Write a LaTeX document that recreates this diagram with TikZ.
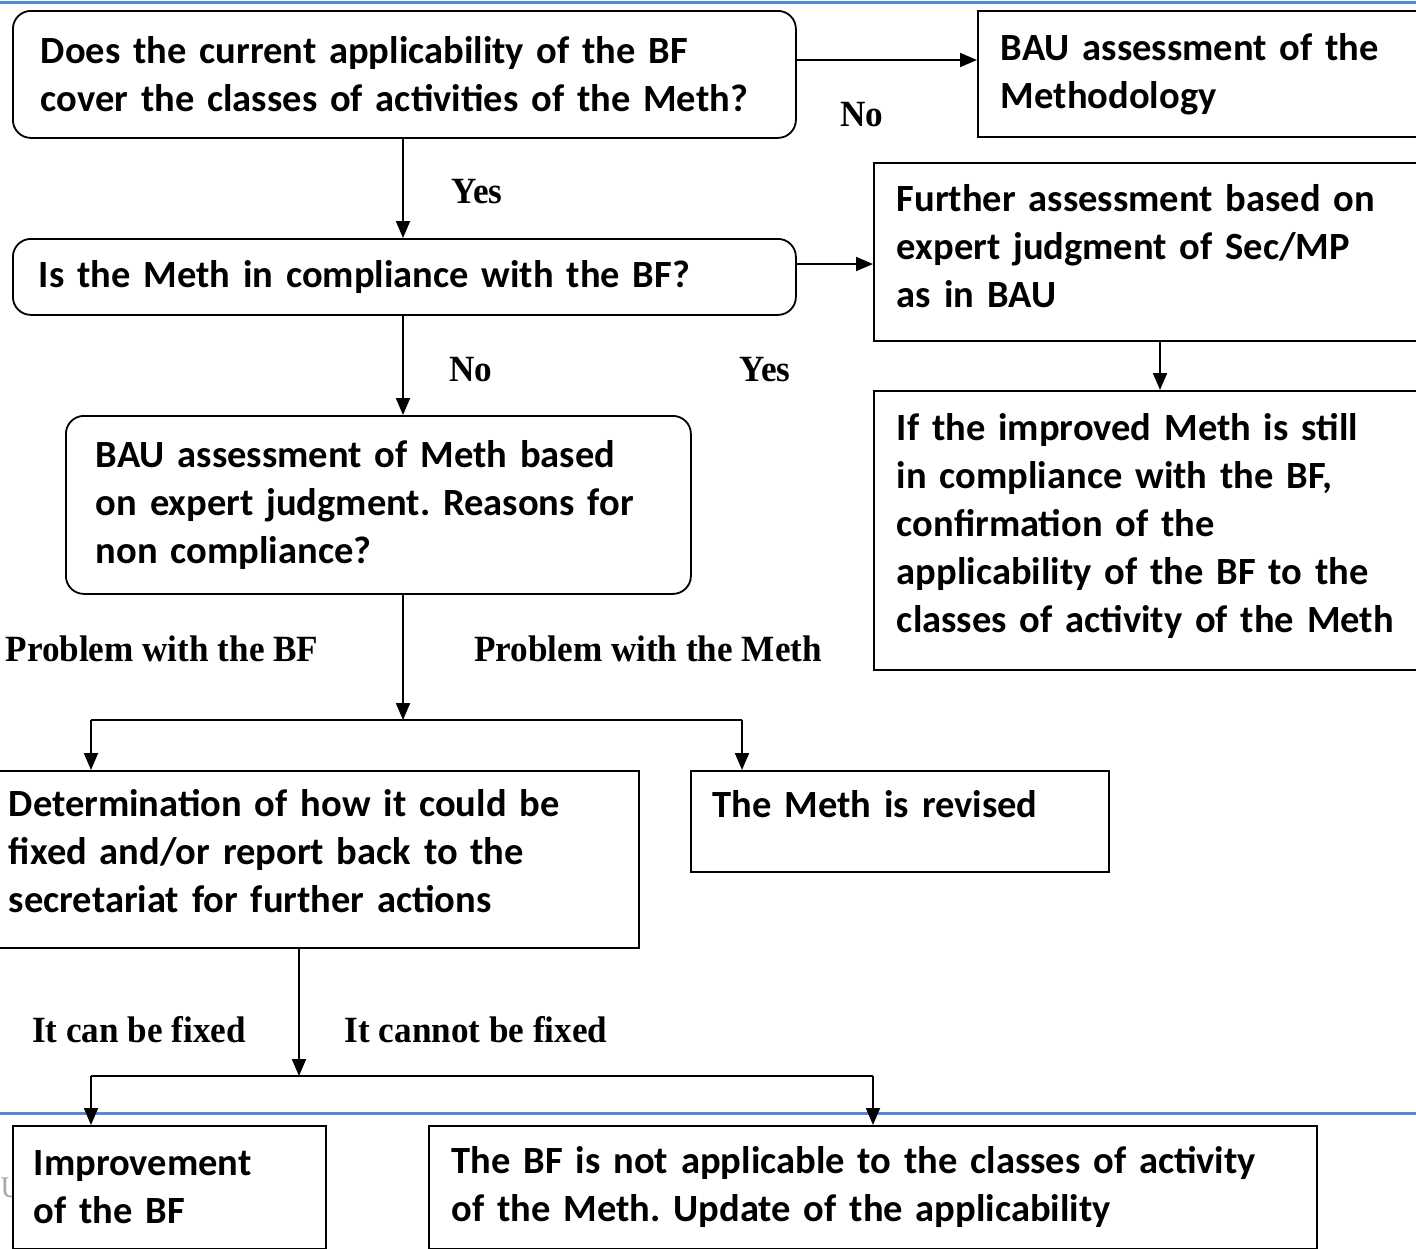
\documentclass[tikz,border=0pt]{standalone}
\usepackage{fontspec}
\setmainfont{Carlito}
\newfontfamily\boxfamily{Carlito}
\newfontfamily\lblfamily{Liberation Serif}[FakeStretch=0.95]
\usetikzlibrary{arrows.meta,calc}
\definecolor{rulebl}{RGB}{79,141,219}
\frenchspacing
\tikzset{
  box/.style={draw, line width=1.8pt, fill=white, anchor=north west, align=left,
    inner ysep=0pt, font=\boxfamily\bfseries\fontsize{38.5}{48}\selectfont},
  rbox/.style={box, rounded corners=18pt},
  lbl/.style={font=\lblfamily\bfseries\fontsize{37}{40}\selectfont, inner sep=0pt},
  conn/.style={line width=2pt},
  arr/.style={line width=2pt, -{Triangle[length=17pt,width=14pt]}},
  bluerule/.style={draw=rulebl, line width=3pt}
}
\begin{document}
\begin{tikzpicture}[x=1pt,y=-1pt]
\useasboundingbox (0,0) rectangle (1416,1248);
\clip (0,0) rectangle (1416,1248);

\draw[bluerule] (0,2) -- (1416,2);
\draw[bluerule] (0,1113) -- (1416,1113);

\node[font=\lblfamily\fontsize{30}{34}\selectfont, text=gray!70, inner sep=0pt, anchor=west] (ufrag) at (0.5,1188) {U};

% boxes
\node[rbox, inner xsep=28pt, text width=727pt, minimum height=127pt] (q1) at (12,10)
  {Does the current applicability of the BF\\cover the classes of activities of the Meth?};
\node[box, inner xsep=23pt, text width=420pt, minimum height=126pt] (bau) at (977,10)
  {BAU assessment of the\\Methodology};
\node[rbox, inner xsep=26pt, text width=731pt, minimum height=76pt] (q2) at (12,238)
  {Is the Meth in compliance with the BF?};
\node[box, inner xsep=23pt, text width=521pt, minimum height=178pt, text depth=108pt] (fur) at (873,162)
  {Further assessment based on\\expert judgment of Sec/MP\\as in BAU};
\node[box, inner xsep=23pt, text width=521pt, minimum height=279pt, text depth=206pt] (conf) at (873,390)
  {If the improved Meth is still\\in compliance with the BF,\\confirmation of the\\applicability of the BF to the\\classes of activity of the Meth};
\node[rbox, inner xsep=30pt, text width=565pt, minimum height=178pt] (reas) at (65,415)
  {BAU assessment of Meth based\\on expert judgment. Reasons for\\non compliance?};
\node[box, inner xsep=28pt, text width=602pt, minimum height=177pt, text depth=112pt] (det) at (-20,770)
  {Determination of how it could be\\fixed and/or report back to the\\secretariat for further actions};
\node[box, inner xsep=22pt, text width=374pt, minimum height=101pt, text depth=34pt] (rev) at (690,770)
  {The Meth is revised};
\node[box, inner xsep=21pt, text width=271pt, minimum height=123pt] (imp) at (12,1125)
  {Improvement\\of the BF};
\node[box, inner xsep=23pt, text width=842pt, minimum height=123pt] (nap) at (428,1125)
  {The BF is not applicable to the classes of activity\\of the Meth. Update of the applicability};

% labels
\node[lbl] (lno1) at (862,115) {No};
\node[lbl] (lyes1) at (477,192) {Yes};
\node[lbl] (lno2) at (471,370) {No};
\node[lbl] (lyes2) at (765,370) {Yes};
\node[lbl] (lpbf) at (162,649) {Problem with the BF};
\node[lbl] (lpm) at (648,649) {Problem with the Meth};
\node[lbl] (lfix) at (139,1030) {It can be fixed};
\node[lbl] (lnfix) at (476,1030) {It cannot be fixed};

% junction coordinates
\coordinate (j1) at (403,720);
\coordinate (j1l) at (91,720);
\coordinate (j1r) at (742,720);
\coordinate (j2) at (299,1076);
\coordinate (j2l) at (91,1076);
\coordinate (j2r) at (873,1076);

% connectors
\draw[arr] (q1.east |- 0,60) -- (bau.west |- 0,60);
\draw[arr] (q1.south -| 403,0) -- (q2.north -| 403,0);
\draw[arr] (q2.east |- 0,264) -- (fur.west |- 0,264);
\draw[arr] (fur.south -| 1160,0) -- (conf.north -| 1160,0);
\draw[arr] (q2.south -| 403,0) -- (reas.north -| 403,0);
\draw[arr] (reas.south -| j1) -- (j1);
\draw[conn] (j1l) -- (j1r);
\draw[arr] (j1l) -- (det.north -| j1l);
\draw[arr] (j1r) -- (rev.north -| j1r);
\draw[arr] (det.south -| j2) -- (j2);
\draw[conn] (j2l) -- (j2r);
\draw[arr] (j2l) -- (imp.north -| j2l);
\draw[arr] (j2r) -- (nap.north -| j2r);
\end{tikzpicture}
\end{document}
